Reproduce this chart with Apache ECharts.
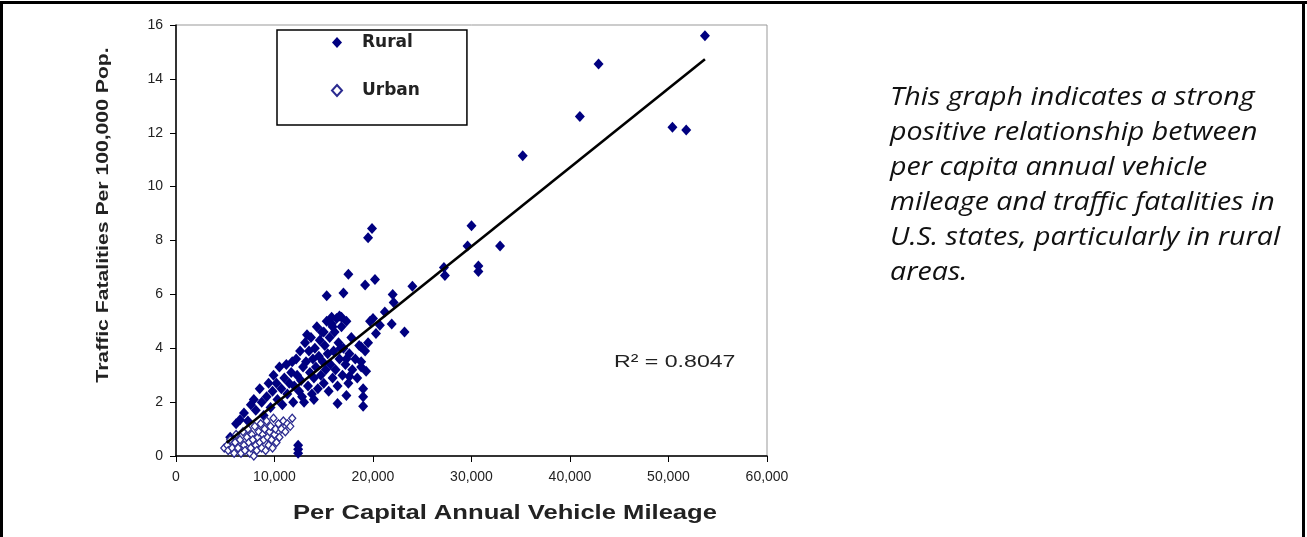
<!DOCTYPE html>
<html>
<head>
<meta charset="utf-8">
<script src="https://cdn.jsdelivr.net/npm/echarts@6/dist/echarts.min.js"></script>
<style>
html,body{margin:0;padding:0;background:#fff;}
#chart{width:1307px;height:537px;}
</style>
</head>
<body>
<div id="chart"></div>
<script>
// ---- data ----
const xTicks = [0, 10000, 20000, 30000, 40000, 50000, 60000];
const yTicks = [0, 2, 4, 6, 8, 10, 12, 14, 16];

const ruralOutliers = [
  [53700,15.6],[42900,14.55],[41000,12.6],[50400,12.2],[51800,12.1],[35200,11.15],
  [30000,8.55],[29600,7.8],[32900,7.8],[27200,7.0],[27300,6.7],[30700,7.05],[30700,6.85],[24000,6.3],
  [19900,8.45],[19500,8.1],[17500,6.75],[20200,6.55],[19200,6.35],[15300,5.95],[17000,6.05],
  [22000,6.0],[22100,5.7],[21200,5.35],[15800,5.15],[16800,5.15],[20000,5.1],
  [23200,4.6],[21900,4.9],[20300,4.55],[19700,5.0],[20700,4.85],[19500,4.2],[18800,4.05],
  [18800,3.5],[19300,3.15],[17600,2.95],[17300,3.6],[16600,5.2],[15900,4.8],
  [19000,2.2],[19000,1.85],[16400,1.95],[17300,2.25],[12400,0.4],[12400,0.1],[12400,0.25]
];
const ruralCluster = [
  [5500,0.7],[6100,1.2],[6500,1.35],[6900,1.6],[7300,1.3],[7600,1.9],[7900,2.1],[8100,1.7],
  [8500,2.5],[8700,2.0],[8900,1.5],[9200,2.2],[9400,2.7],[9600,1.8],[9800,2.4],[9900,3.0],
  [10200,2.7],[10300,2.1],[10500,3.3],[10700,2.5],[10800,1.9],[11000,2.9],[11200,3.4],[11300,2.3],
  [11500,2.7],[11700,3.1],[11900,2.0],[12000,2.6],
  [12200,3.6],[12300,3.0],[12500,2.4],[12600,3.9],[12700,2.8],[12900,3.3],[13000,2.0],[13100,4.2],
  [13200,3.5],[13400,2.6],[13500,3.9],[13600,3.1],[13700,4.4],[13800,2.3],[13900,3.6],[14000,2.9],
  [14100,4.0],[14200,3.3],[14300,4.8],[14400,2.5],[14500,3.7],[14600,4.3],[14700,3.0],[14800,4.6],
  [14900,3.5],[15000,2.7],[15100,4.1],[15200,3.2],[15300,5.0],[15400,3.8],[15500,2.4],[15600,4.4],
  [15700,3.4],[15800,4.9],[15900,2.9],[16000,3.9],
  [16100,4.6],[16200,3.2],[16300,5.1],[16400,2.6],[16500,4.2],[16600,3.6],[16800,4.8],[16900,3.0],
  [17000,4.0],[17200,3.4],[17300,5.0],[17500,2.7],[17600,3.8],[17800,4.4],[17900,3.2],
  [18200,3.6],[18400,2.9],[18600,4.1],[18800,3.3],[19000,2.5],[19200,3.9],
  [12800,2.2],[14000,2.1],[11800,3.5],[13300,4.5],[15000,4.6],[16700,4.0]
];
const urban = [
  [4900,0.3],[5200,0.4],[5300,0.2],[5500,0.6],[5700,0.3],[5900,0.1],[6000,0.5],[6100,0.8],[6300,0.3],
  [6500,0.6],[6600,0.1],[6800,0.9],[6900,0.4],[7000,0.2],[7200,0.7],[7300,1.0],[7400,0.5],
  [7500,0.1],[7600,0.3],[7700,0.8],[7800,0.6],[7900,0.0],[8000,1.1],[8100,0.4],[8200,0.2],
  [8300,0.7],[8400,0.9],[8500,0.5],[8600,1.2],[8700,0.3],[8800,0.8],[8900,0.6],[9000,1.0],
  [9100,0.2],[9200,1.3],[9300,0.7],[9400,0.4],[9500,0.9],[9600,1.1],[9700,0.6],[9800,0.3],
  [9900,1.4],[10000,0.8],[10100,1.0],[10200,0.5],[10400,1.2],[10500,0.7],[10700,1.0],[10900,1.3],
  [11100,0.9],[11300,1.2],[11600,1.1],[11800,1.4]
];
const trendLine = [[5140,0.49],[53700,14.73]];
const r2Label = 'R² = 0.8047';
const xTitle = 'Per Capital Annual Vehicle Mileage';
const yTitle = 'Traffic Fatalities Per 100,000 Pop.';
const sideText = [
  'This graph indicates a strong',
  'positive relationship between',
  'per capita annual vehicle',
  'mileage and traffic fatalities in',
  'U.S. states, particularly in rural',
  'areas.'
];

const chart = echarts.init(document.getElementById('chart'), null, {renderer:'canvas'});
const FONT = 'Liberation Sans, Arial, sans-serif';
chart.setOption({
  animation: false,
  backgroundColor: '#fff',
  grid: {left:176, right:540, top:25, bottom:81, show:true, borderColor:'#999', borderWidth:1, backgroundColor:'transparent'},
  xAxis: {
    type:'value', min:xTicks[0], max:xTicks[xTicks.length-1], interval:10000,
    axisLine:{show:true, onZero:false, lineStyle:{color:'#000', width:1.5}},
    axisTick:{show:true, inside:false, length:6, lineStyle:{color:'#000'}},
    axisLabel:{color:'#222', fontSize:14, fontFamily:FONT, margin:14},
    splitLine:{show:false}
  },
  yAxis: {
    type:'value', min:yTicks[0], max:yTicks[yTicks.length-1], interval:2,
    axisLine:{show:true, onZero:false, lineStyle:{color:'#000', width:1.5}},
    axisTick:{show:true, inside:false, length:6, lineStyle:{color:'#000'}},
    axisLabel:{color:'#222', fontSize:14, fontFamily:FONT, margin:13},
    splitLine:{show:false}
  },
  legend: {
    orient:'vertical', left:277, top:30,
    data:['Rural','Urban'],
    itemWidth:10, itemHeight:11, itemGap:31,
    padding:[4,47,26,54],
    borderColor:'#000', borderWidth:1.5,
    textStyle:{fontFamily:'DejaVu Sans, sans-serif', fontSize:17, fontWeight:'bold', color:'#222', padding:[0,0,0,15]}
  },
  series: [
    {name:'Rural', type:'scatter', symbol:'diamond', symbolSize:[10,11], z:2,
     itemStyle:{color:'#000080', opacity:1}, data: ruralOutliers.concat(ruralCluster)},
    {name:'Urban', type:'scatter', symbol:'diamond', symbolSize:[7,8], z:2,
     itemStyle:{color:'#fff', borderColor:'#2b2b90', borderWidth:1.3, opacity:1}, data: urban},
    {name:'Trend', type:'line', data: trendLine, symbol:'none', z:5, silent:true,
     lineStyle:{color:'#000', width:2.6}}
  ],
  graphic: [
    {type:'rect', shape:{x:0,y:1,width:1307,height:3}, style:{fill:'#000'}},
    {type:'rect', shape:{x:0,y:1,width:3,height:536}, style:{fill:'#000'}},
    {type:'rect', shape:{x:1302,y:1,width:3,height:536}, style:{fill:'#000'}},
    {type:'text', x:614, y:362, scaleX:1.36, style:{text:r2Label, font:'17px '+FONT, fill:'#222', textVerticalAlign:'middle'}},
    {type:'text', x:505, y:513, scaleX:1.28, style:{text:xTitle, font:'bold 20px '+FONT, fill:'#222', textAlign:'center', textVerticalAlign:'middle'}},
    {type:'text', x:103, y:215, rotation:Math.PI/2, scaleX:1.245, style:{text:yTitle, font:'bold 17px '+FONT, fill:'#222', textAlign:'center', textVerticalAlign:'middle'}},
    {type:'text', x:890, y:80, scaleX:1.1, style:{text:sideText.join('\n'), font:'italic 26px Open Sans, sans-serif', fill:'#111', lineHeight:35}}
  ]
});
</script>
</body>
</html>
